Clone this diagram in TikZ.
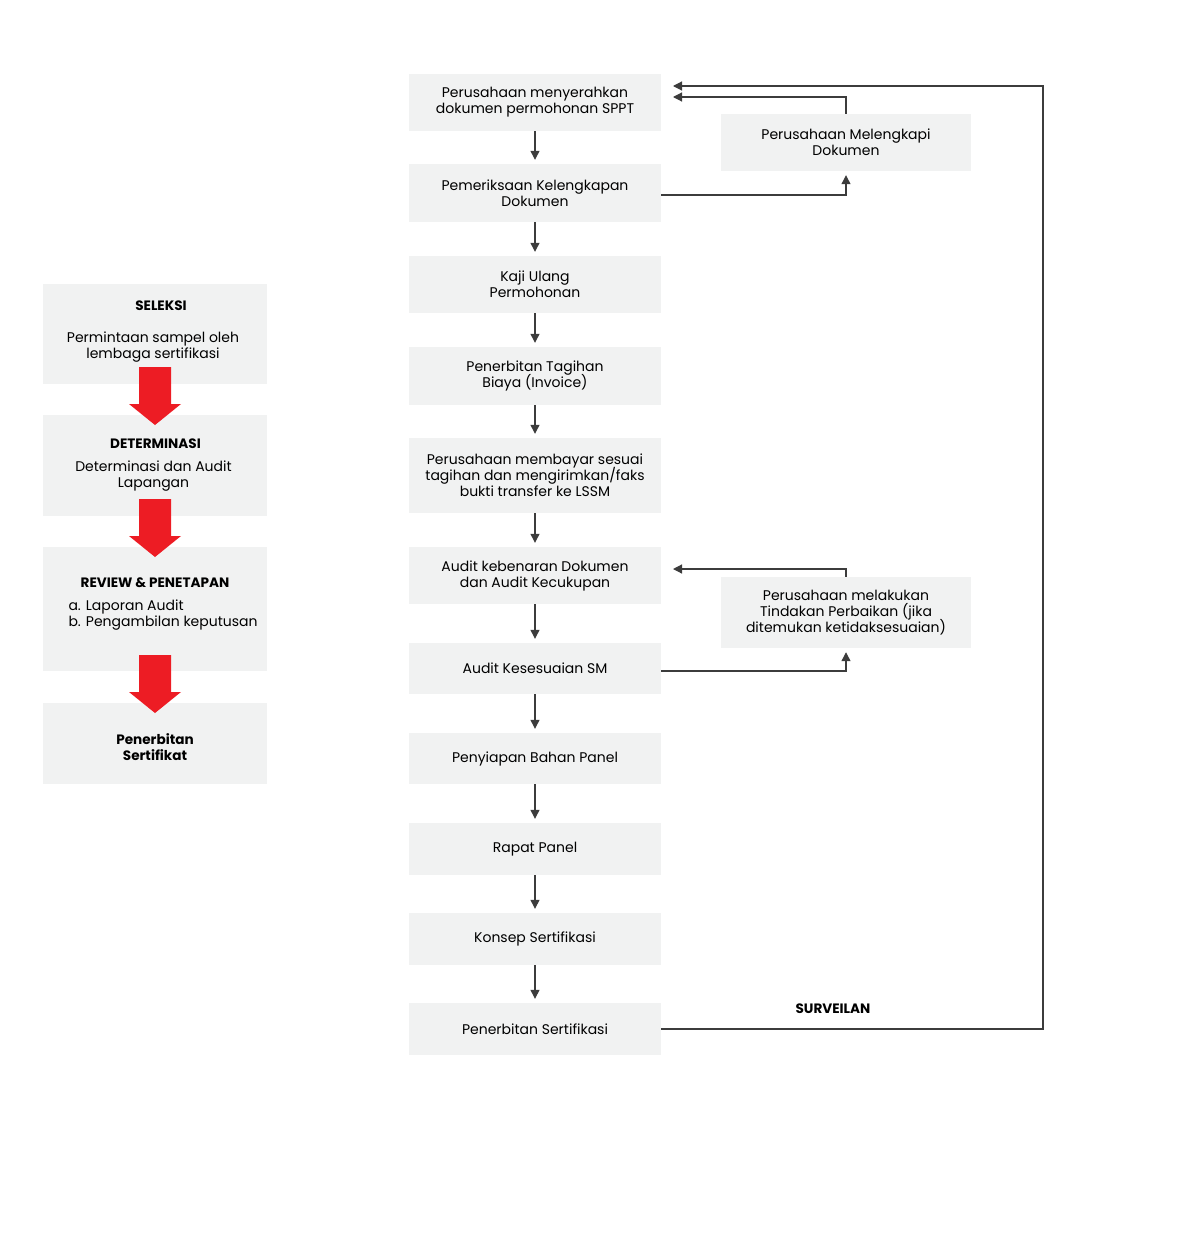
\documentclass[tikz,border=0pt]{standalone}
\usepackage{fontspec}
\setmainfont{Poppins}
\usepackage{xcolor}
\usetikzlibrary{arrows.meta}
\usetikzlibrary{calc}
\setlength{\lineskiplimit}{-20pt}
\definecolor{boxGray}{HTML}{F1F2F2}
\definecolor{lineGray}{HTML}{3C3C3C}
\definecolor{arrowRed}{HTML}{ED1C24}
\tikzstyle{stepBox}=[fill=boxGray, inner sep=0pt, minimum width=252pt, align=center, font=\fontsize{14}{16}\selectfont]
\tikzstyle{sideBox}=[fill=boxGray, inner sep=0pt, minimum width=250pt, align=center, font=\fontsize{14}{16}\selectfont]
\tikzstyle{phaseBox}=[fill=boxGray, inner sep=0pt, minimum width=224pt]
\tikzstyle{phaseTitle}=[align=center, font=\fontsize{13.6}{16}\selectfont\bfseries]
\tikzstyle{phaseText}=[align=center, font=\fontsize{14}{16}\selectfont]
\tikzstyle{stepTransition}=[lineGray, line width=1.2pt, -{Triangle[length=9pt,width=9pt]}, shorten >=4pt]

\begin{document}
\begin{tikzpicture}[x=1pt, y=-1pt]
  \useasboundingbox (0,0) rectangle (1192,1239);

  % Phases (left)
  \node (seleksi) at (155,334) [phaseBox, minimum height=100pt] {};
  \node (seleksititle) at (161,306) [phaseTitle] {SELEKSI};
  \node (seleksitext) at (153,347) [phaseText] {Permintaan sampel oleh\\lembaga sertifikasi};

  \node (determinasi) at (155,465.5) [phaseBox, minimum height=101pt] {};
  \node (determinasititle) at (155.5,444) [phaseTitle] {DETERMINASI};
  \node (determinasitext) at (153.5,476) [phaseText] {Determinasi dan Audit\\Lapangan};

  \node (review) at (155,609) [phaseBox, minimum height=124pt] {};
  \node (reviewtitle) at (155,583) [phaseTitle] {REVIEW \& PENETAPAN};
  \node (reviewtext) at (65,615) [phaseText, anchor=west, align=left] {a. Laporan Audit\\b. Pengambilan keputusan};

  \node (penerbitan) at (155,743.5) [phaseBox, minimum height=81pt] {};
  \node (penerbitantitle) at (155,747) [phaseTitle] {Penerbitan\\Sertifikat};

  % Red arrows
  \foreach \ytop in {367,499,655}
    \fill[arrowRed] (139,\ytop) -- (171,\ytop) -- (171,\ytop+37) -- (181,\ytop+37) -- (155,\ytop+58) -- (129,\ytop+37) -- (139,\ytop+37) -- cycle;

  % Steps (right)
  \node (permohonan) at (535,102.5) [stepBox, minimum height=57pt] {Perusahaan menyerahkan\\dokumen permohonan SPPT};
  \node (pemeriksaan) at (535,193) [stepBox, minimum height=58pt] {Pemeriksaan Kelengkapan\\Dokumen};
  \node (kajiUlang) at (535,284.5) [stepBox, minimum height=57pt] {Kaji Ulang\\Permohonan};
  \node (tagihan) at (535,376) [stepBox, minimum height=58pt] {Penerbitan Tagihan\\Biaya (Invoice)};
  \node (pembayaran) at (535,475.5) [stepBox, minimum height=75pt] {Perusahaan membayar sesuai\\tagihan dan mengirimkan/faks\\bukti transfer ke LSSM};
  \node (auditDokumen) at (535,575.5) [stepBox, minimum height=57pt] {Audit kebenaran Dokumen\\dan Audit Kecukupan};
  \node (auditSM) at (535,668.5) [stepBox, minimum height=51pt] {Audit Kesesuaian SM};
  \node (bahanPanel) at (535,758.5) [stepBox, minimum height=51pt] {Penyiapan Bahan Panel};
  \node (rapatPanel) at (535,849) [stepBox, minimum height=52pt] {Rapat Panel};
  \node (konsep) at (535,939) [stepBox, minimum height=52pt] {Konsep Sertifikasi};
  \node (sertifikasi) at (535,1029) [stepBox, minimum height=52pt] {Penerbitan Sertifikasi};

  \node (melengkapi) at (846,142.5) [sideBox, minimum height=57pt] {Perusahaan Melengkapi\\Dokumen};
  \node (perbaikan) at (846,612.5) [sideBox, minimum height=71pt] {Perusahaan melakukan\\Tindakan Perbaikan (jika\\ditemukan ketidaksesuaian)};

  \node (surveilan) at (833,1009) [phaseTitle] {SURVEILAN};

  \coordinate (backMelengkapi) at (673,97);
  \coordinate (backSurveilan) at (673,86);
  \coordinate (backPerbaikan) at (673,569);
  \coordinate (surveilanCorner) at (1043,1029);

  % Step Transitions
  \draw[stepTransition] (permohonan) -- (pemeriksaan);
  \draw[stepTransition] (pemeriksaan) -- (kajiUlang);
  \draw[stepTransition] (kajiUlang) -- (tagihan);
  \draw[stepTransition] (tagihan) -- (pembayaran);
  \draw[stepTransition] (pembayaran) -- (auditDokumen);
  \draw[stepTransition] (auditDokumen) -- (auditSM);
  \draw[stepTransition] (auditSM) -- (bahanPanel);
  \draw[stepTransition] (bahanPanel) -- (rapatPanel);
  \draw[stepTransition] (rapatPanel) -- (konsep);
  \draw[stepTransition] (konsep) -- (sertifikasi);

  \draw[stepTransition] ($(pemeriksaan.east)+(0,2)$) -| (melengkapi.south);
  \draw[stepTransition, shorten >=0pt] (melengkapi.north) |- (backMelengkapi);
  \draw[stepTransition] ($(auditSM.east)+(0,2.5)$) -| (perbaikan.south);
  \draw[stepTransition, shorten >=0pt] (perbaikan.north) |- (backPerbaikan);
  \draw[stepTransition, shorten >=0pt] (sertifikasi.east) -- (surveilanCorner) |- (backSurveilan);

\end{tikzpicture}
\end{document}
